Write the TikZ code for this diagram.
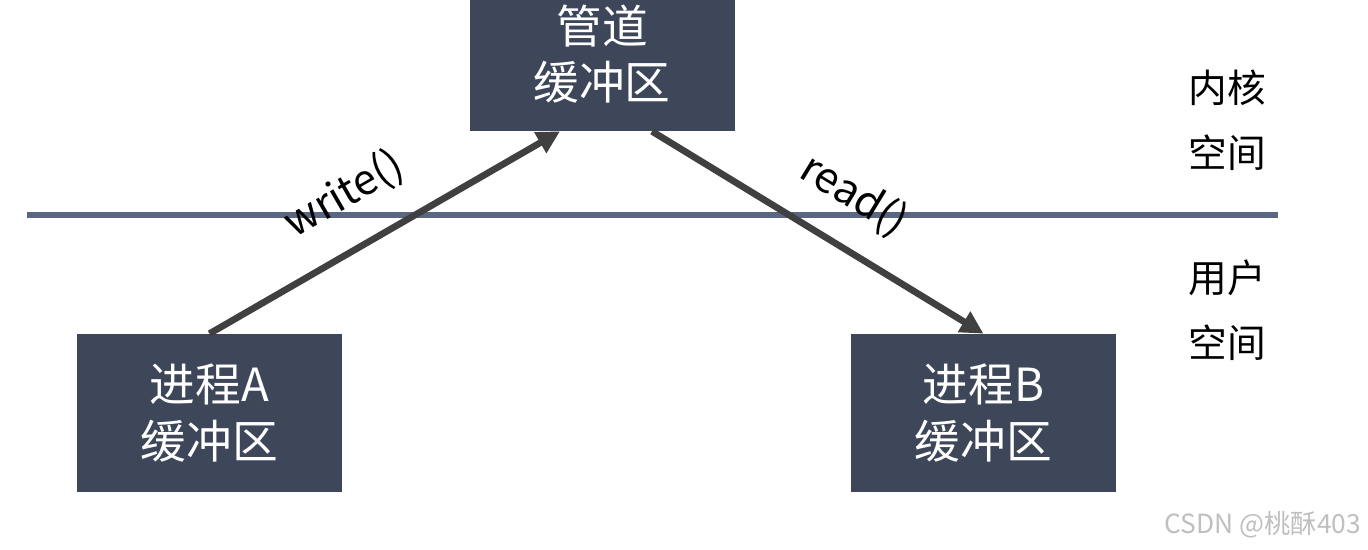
\documentclass[tikz,border=0pt]{standalone}
\usepackage{fontspec}
\setmainfont{Noto Sans CJK SC}
\usetikzlibrary{positioning,arrows.meta}
\definecolor{boxgray}{HTML}{3D4759}
\definecolor{sepblue}{HTML}{5A6781}
\definecolor{arrgray}{HTML}{404040}

\begin{document}
\begin{tikzpicture}[
  box/.style={fill=boxgray, text=white, align=center, inner sep=0pt,
              minimum width=5.3cm, font=\fontsize{26}{32}\selectfont},
  arr/.style={-{Triangle[length=13pt,width=13pt]}, line width=3.8pt, arrgray},
  lbl/.style={font=\fontsize{24}{28}\selectfont, text=black},
  side/.style={align=center, font=\fontsize{22}{37}\selectfont},
]
\useasboundingbox (0,0) rectangle (27.36,11);
\clip (0,0) rectangle (27.36,11);

% ---- Kernel / user separator ----
\coordinate (sepL) at (0.54, 6.7);
\coordinate (sepR) at (25.56, 6.7);
\draw[sepblue, line width=3.2pt] (sepL) -- (sepR);

% ---- Buffers ----
\node[box, minimum height=3.08cm] (pipe) at (12.04, 9.92) {管道\\缓冲区};
\node[box, minimum height=3.16cm] (bufA) at (4.19, 2.74) {进程A\\缓冲区};
\node[box, minimum height=3.16cm] (bufB) at (19.67, 2.74) {进程B\\缓冲区};

% ---- System calls ----
\draw[arr] (bufA.north) -- node[lbl, sloped, above=0.45cm, pos=0.46] {write()}
  ([xshift=-0.84cm]pipe.south);
\draw[arr] ([xshift=1cm]pipe.south) -- node[lbl, sloped, above=0.4cm, pos=0.53] {read()}
  (bufB.north);

% ---- Space labels ----
\node[side] (kernel) at (24.54, 8.59) {内核\\空间};
\node[side] (user) at (24.54, 4.79) {用户\\空间};

\node[font=\fontsize{15}{18}\selectfont, text=black!25] (mark) at (25.26, 0.5)
  {CSDN @桃酥403};
\end{tikzpicture}
\end{document}
